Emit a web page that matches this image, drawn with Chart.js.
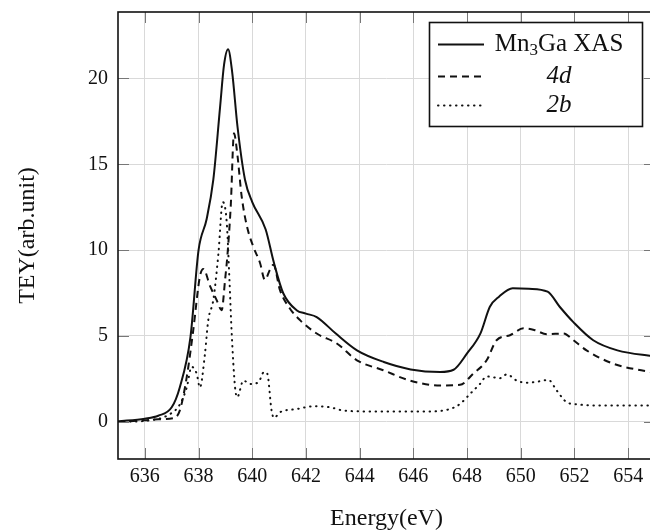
<!DOCTYPE html>
<html>
<head>
<meta charset="utf-8">
<script src="https://cdn.jsdelivr.net/npm/chart.js@4/dist/chart.umd.min.js"></script>
<style>
html, body { margin:0; padding:0; background:#fff; overflow:hidden; }
#mycanvas { display:block; }
</style>
</head>
<body>
<canvas id="mycanvas" width="656" height="531"></canvas>
<script>
// Mn3Ga XAS spectrum (solid)
var xasE = [635, 636, 636.5, 637.0, 637.3, 637.7, 638.0, 638.3, 638.55, 638.8, 638.95, 639.1, 639.25, 639.45, 639.73, 640.0, 640.5, 640.8, 641.15, 641.65, 642.0, 642.4, 643.1, 643.9, 644.9, 645.9, 647.0, 647.5, 648.0, 648.5, 648.85, 649.2, 649.7, 650.3, 651.0, 651.45, 651.95, 652.7, 653.6, 655];
var xasV = [0.02, 0.18, 0.35, 0.84, 2.0, 4.95, 10.0, 11.8, 14.1, 18.3, 20.8, 21.7, 20.4, 17.2, 14.1, 12.8, 11.2, 9.3, 7.5, 6.5, 6.3, 6.1, 5.15, 4.16, 3.48, 3.05, 2.9, 3.03, 3.98, 5.15, 6.7, 7.3, 7.78, 7.75, 7.58, 6.7, 5.82, 4.75, 4.16, 3.8];
// 4d (dashed)
var d4E = [635, 636, 636.5, 637.05, 637.3, 637.56, 637.8, 638.05, 638.18, 638.43, 638.67, 638.86, 638.99, 639.07, 639.2, 639.32, 639.45, 639.6, 639.8, 640.04, 640.29, 640.47, 640.66, 640.79, 641.03, 641.4, 641.78, 642.4, 643.15, 643.9, 644.88, 645.87, 647.0, 647.74, 648.23, 648.73, 649.1, 649.6, 650.1, 650.5, 650.97, 651.59, 651.96, 652.45, 653.45, 655];
var d4V = [0.0, 0.08, 0.15, 0.2, 0.65, 2.6, 5.3, 8.46, 8.9, 7.9, 7.1, 6.5, 8.3, 9.6, 12.6, 16.8, 15.5, 13.2, 11.4, 10.2, 9.25, 8.27, 8.86, 9.15, 7.68, 6.6, 5.92, 5.14, 4.56, 3.58, 3.0, 2.4, 2.11, 2.15, 2.8, 3.58, 4.75, 5.04, 5.44, 5.35, 5.1, 5.14, 4.75, 4.16, 3.38, 2.85];
// 2b (dotted)
var b2E = [635, 636, 636.94, 637.3, 637.56, 637.74, 637.93, 638.05, 638.24, 638.36, 638.55, 638.74, 638.9, 639.05, 639.15, 639.23, 639.36, 639.44, 639.67, 639.92, 640.23, 640.44, 640.56, 640.72, 640.81, 641.03, 641.66, 642.28, 642.9, 643.4, 644.5, 645.87, 646.6, 647.36, 647.74, 648.11, 648.48, 648.73, 649.23, 649.48, 649.85, 650.22, 650.72, 651.03, 651.34, 651.71, 651.96, 652.95, 655];
var b2V = [0.0, 0.05, 0.45, 1.0, 2.0, 3.2, 2.8, 2.0, 3.98, 5.9, 7.1, 9.8, 12.8, 11.6, 8.3, 5.3, 2.0, 1.43, 2.4, 2.2, 2.3, 2.9, 2.8, 0.65, 0.22, 0.55, 0.74, 0.9, 0.84, 0.65, 0.6, 0.6, 0.6, 0.74, 1.04, 1.62, 2.2, 2.64, 2.54, 2.76, 2.4, 2.27, 2.36, 2.44, 1.82, 1.13, 1.04, 0.94, 0.94];

var xTicks = [636, 638, 640, 642, 644, 646, 648, 650, 652, 654];
var yTicks = [0, 5, 10, 15, 20];
var xMin = 635, xMax = 655;
var yMin = -2.17, yMax = 23.87;

var names = ['Mn3Ga XAS', '4d', '2b'];
var dashes = [[], [7, 5], [0.5, 5.5]];

function pts(ex, vy){
	var out = [];
	for(var i in ex){
		out.push({x: ex[i], y: vy[i]});
	}
	return out;
}

var serif = "'Liberation Serif', 'DejaVu Serif', serif";

// frame, inward tick marks and the boxed legend
var decor = {
	id: 'decor',
	afterDraw: function(chart){
		var c = chart.ctx, a = chart.chartArea;
		var xs = chart.scales.x, ys = chart.scales.y;
		c.save();
		c.strokeStyle = '#777';
		c.lineWidth = 1;
		c.beginPath();
		xs.ticks.forEach(function(t){
			var px = Math.round(xs.getPixelForValue(t.value)) + 0.5;
			c.moveTo(px, a.bottom); c.lineTo(px, a.bottom - 11);
			c.moveTo(px, a.top); c.lineTo(px, a.top + 11);
		});
		ys.ticks.forEach(function(t){
			var py = Math.round(ys.getPixelForValue(t.value)) + 0.5;
			c.moveTo(a.left, py); c.lineTo(a.left + 11, py);
			c.moveTo(a.right, py); c.lineTo(a.right - 11, py);
		});
		c.stroke();

		c.strokeStyle = '#111';
		c.lineWidth = 1.6;
		c.strokeRect(a.left, a.top, a.right - a.left, a.bottom - a.top);

		// legend
		var bx = 429.5, by = 22.5, bw = 213, bh = 104;
		c.fillStyle = '#fff';
		c.fillRect(bx, by, bw, bh);
		c.strokeRect(bx, by, bw, bh);
		var rows = [44, 76, 105];
		var tx = 559;
		c.lineCap = 'round';
		for(var i = 0; i < 3; i++){
			c.beginPath();
			c.setLineDash(dashes[i]);
			c.lineWidth = 2;
			c.lineCap = i == 2 ? 'round' : 'butt';
			c.moveTo(438, rows[i] + 0.5);
			c.lineTo(484, rows[i] + 0.5);
			c.stroke();
		}
		c.setLineDash([]);
		c.fillStyle = '#111';
		c.textBaseline = 'middle';
		// Mn3Ga XAS with subscript
		var big = '25px ' + serif, small = '17px ' + serif;
		c.font = big;
		var w1 = c.measureText('Mn').width, w3 = c.measureText('Ga XAS').width;
		c.font = small;
		var w2 = c.measureText('3').width;
		var x0 = tx - (w1 + w2 + w3) / 2;
		c.textAlign = 'left';
		c.font = big;
		c.fillText('Mn', x0, rows[0]);
		c.font = small;
		c.fillText('3', x0 + w1, rows[0] + 7);
		c.font = big;
		c.fillText('Ga XAS', x0 + w1 + w2, rows[0]);
		c.textAlign = 'center';
		c.font = 'italic 25px ' + serif;
		c.fillText('4d', tx, rows[1]);
		c.fillText('2b', tx, rows[2]);
		c.restore();
	}
};

var chartdata = {
	datasets: [
		{label: names[0], data: pts(xasE, xasV), borderColor: '#111', borderWidth: 2, borderDash: dashes[0]},
		{label: names[1], data: pts(d4E, d4V), borderColor: '#111', borderWidth: 2, borderDash: dashes[1]},
		{label: names[2], data: pts(b2E, b2V), borderColor: '#111', borderWidth: 2, borderDash: dashes[2], borderCapStyle: 'round'}
	]
};

var ctx = document.getElementById("mycanvas");
var graph = new Chart(ctx, {
	type: 'line',
	data: chartdata,
	plugins: [decor],
	options: {
		responsive: false,
		animation: false,
		devicePixelRatio: 1,
		layout: {padding: {top: 12, right: 1, left: 0, bottom: 0}},
		elements: {
			point: {radius: 0},
			line: {cubicInterpolationMode: 'monotone', fill: false}
		},
		plugins: {
			legend: {display: false},
			tooltip: {enabled: false}
		},
		scales: {
			x: {
				type: 'linear',
				min: xMin, max: xMax,
				afterBuildTicks: function(s){ s.ticks = xTicks.map(function(v){ return {value: v}; }); },
				afterFit: function(s){ s.height = 72; s.paddingLeft = 0; s.paddingRight = 0; },
				ticks: {padding: 6, color: '#111', font: {family: serif, size: 20}},
				grid: {color: '#d9d9d9', drawTicks: false},
				border: {display: false},
				title: {display: true, text: 'Energy(eV)', color: '#111', padding: 0, font: {family: serif, size: 24, lineHeight: 1}}
			},
			y: {
				min: yMin, max: yMax,
				afterBuildTicks: function(s){ s.ticks = yTicks.map(function(v){ return {value: v}; }); },
				afterFit: function(s){ s.width = 118; s.paddingTop = 0; s.paddingBottom = 0; },
				ticks: {padding: 10, color: '#111', font: {family: serif, size: 20}},
				grid: {color: '#d9d9d9', drawTicks: false},
				border: {display: false},
				title: {display: true, text: 'TEY(arb.unit)', color: '#111', padding: {top: 16, bottom: 0}, font: {family: serif, size: 24, lineHeight: 1}}
			}
		}
	}
});
</script>
</body>
</html>
